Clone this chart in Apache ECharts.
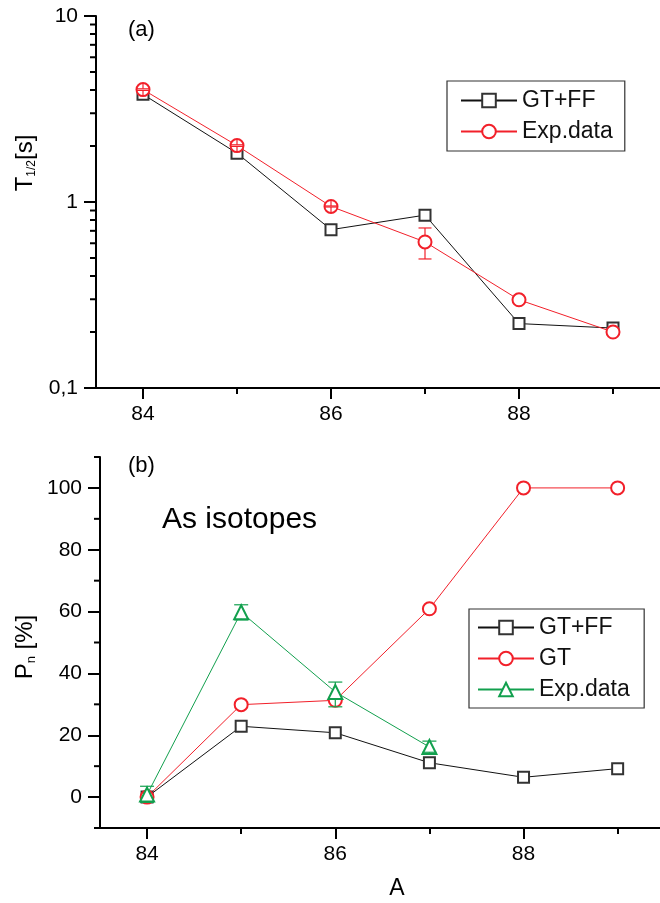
<!DOCTYPE html>
<html>
<head>
<meta charset="utf-8">
<script src="https://cdn.jsdelivr.net/npm/echarts@6/dist/echarts.min.js"></script>
<style>
  html, body { margin: 0; padding: 0; background: #fff; }
  #chart { width: 660px; height: 903px; }
</style>
</head>
<body>
<div id="chart"></div>
<script>
// ---------- data ----------
const massNumbers = [84, 85, 86, 87, 88, 89];

// panel (a): half-lives [s]
const halfLifeCalc = [3.79, 1.83, 0.71, 0.85, 0.222, 0.21];      // GT+FF
const halfLifeExp = [4.02, 2.01, 0.946, 0.61, 0.298, 0.20];       // Exp.data
const halfLifeExpLow = [3.98, 1.99, 0.94, 0.494, null, null];
const halfLifeExpHigh = [4.06, 2.03, 0.952, 0.725, null, null];

// panel (b): Pn [%]
const pnCalc = [0, 22.9, 20.8, 11.1, 6.4, 9.2];                   // GT+FF
const pnGT = [0, 29.9, 31.3, 60.9, 100, 100];                     // GT
const expMassNumbers = [84, 85, 86, 87];
const pnExp = [0.8, 59.8, 34.0, 16.2];                            // Exp.data
const pnExpLow = [-1.7, 57.3, 29.2, 14.5];
const pnExpHigh = [3.5, 62.2, 37.2, 18.1];

// axes / ticks
const xMin = 83.5, xMaxTop = 89.5, xMaxBottom = 89.45;
const xMajorTicks = [84, 86, 88];
const xMinorTicks = [85, 87, 89];
const logMin = 0.1, logMax = 10;
const logMajorTicks = [0.1, 1, 10];
const logTickLabels = ['0,1', '1', '10'];
const logMinorTicks = [0.2, 0.3, 0.4, 0.5, 0.6, 0.7, 0.8, 0.9, 2, 3, 4, 5, 6, 7, 8, 9];
const pnMin = -10, pnMax = 110;
const pnMajorTicks = [0, 20, 40, 60, 80, 100];
const pnMinorTicks = [-10, 10, 30, 50, 70, 90, 110];

// ---------- helpers ----------
const FONT = '"Liberation Sans", Arial, Helvetica, sans-serif';
const RED = '#f2202a';
const GREEN = '#12a04e';
const BLACK = '#111';

function pairs(xs, ys) { return xs.map((x, i) => [x, ys[i]]); }
function errRows(xs, ys, lo, hi) {
  const out = [];
  xs.forEach((x, i) => { if (lo[i] != null && hi[i] != null) out.push([x, ys[i], lo[i], hi[i]]); });
  return out;
}
function errorBarRenderer(color, radius, capHalf) {
  return function (params, api) {
    const x = api.value(0);
    const c = api.coord([x, api.value(1)]);
    const lo = api.coord([x, api.value(2)]);
    const hi = api.coord([x, api.value(3)]);
    const st = { stroke: color, lineWidth: 1.2 };
    return {
      type: 'group',
      children: [
        { type: 'line', shape: { x1: c[0], y1: c[1] - radius, x2: c[0], y2: hi[1] }, style: st },
        { type: 'line', shape: { x1: c[0], y1: c[1] + radius, x2: c[0], y2: lo[1] }, style: st },
        { type: 'line', shape: { x1: c[0] - capHalf, y1: hi[1], x2: c[0] + capHalf, y2: hi[1] }, style: st },
        { type: 'line', shape: { x1: c[0] - capHalf, y1: lo[1], x2: c[0] + capHalf, y2: lo[1] }, style: st }
      ]
    };
  };
}
// minor tick drawn across the full width of a narrow strip grid placed just left of the main axis
function stripTickRenderer(params, api) {
  const p = api.coord([api.value(0), api.value(1)]);
  const cs = params.coordSys;
  return {
    type: 'line',
    shape: { x1: cs.x, y1: p[1], x2: cs.x + cs.width, y2: p[1] },
    style: { stroke: '#000', lineWidth: 2 }
  };
}

const axisLineStyle = { color: '#000', width: 2 };
const labelStyle = { color: '#000', fontFamily: FONT, fontSize: 21 };

function xAxisMain(gridIndex, max) {
  return {
    type: 'value', gridIndex, position: 'bottom', min: xMin, max,
    axisLine: { show: true, onZero: false, lineStyle: axisLineStyle },
    axisTick: { show: true, length: 11, lineStyle: { width: 2, color: '#000' }, customValues: xMajorTicks },
    axisLabel: Object.assign({ margin: 16, customValues: xMajorTicks, formatter: v => String(v) }, labelStyle),
    splitLine: { show: false }
  };
}
function xAxisMinor(gridIndex, max) {
  return {
    type: 'value', gridIndex, position: 'bottom', min: xMin, max,
    axisLine: { show: false, onZero: false },
    axisTick: { show: true, length: 6, lineStyle: { width: 2, color: '#000' }, customValues: xMinorTicks },
    axisLabel: { show: false },
    splitLine: { show: false }
  };
}
function hiddenAxis(gridIndex, type, min, max) {
  return { type, gridIndex, min, max, show: false, axisLine: { show: false, onZero: false }, splitLine: { show: false } };
}

const option = {
  animation: false,
  backgroundColor: '#fff',
  textStyle: { fontFamily: FONT },
  grid: [
    { left: 96, top: 16, width: 564, height: 372, containLabel: false, outerBoundsMode: 'none' },
    { left: 100, top: 457, width: 560, height: 371, containLabel: false, outerBoundsMode: 'none' },
    // narrow strips left of each y axis, same vertical extent, carrying the minor y ticks
    { left: 90, top: 16, width: 6, height: 372, containLabel: false, outerBoundsMode: 'none' },
    { left: 94, top: 457, width: 6, height: 371, containLabel: false, outerBoundsMode: 'none' }
  ],
  xAxis: [
    xAxisMain(0, xMaxTop),
    xAxisMinor(0, xMaxTop),
    xAxisMain(1, xMaxBottom),
    xAxisMinor(1, xMaxBottom),
    hiddenAxis(2, 'value', 0, 1),
    hiddenAxis(3, 'value', 0, 1)
  ],
  yAxis: [
    {
      type: 'log', logBase: 10, gridIndex: 0, min: logMin, max: logMax, position: 'left',
      axisLine: { show: true, onZero: false, lineStyle: axisLineStyle },
      axisTick: { show: true, length: 12, lineStyle: { width: 2, color: '#000' } },
      axisLabel: Object.assign({
        margin: 18, showMinLabel: true, showMaxLabel: true,
        formatter: function (v) {
          const i = logMajorTicks.findIndex(t => Math.abs(Math.log10(t) - Math.log10(v)) < 0.01);
          return i >= 0 ? logTickLabels[i] : '';
        }
      }, labelStyle),
      splitLine: { show: false }
    },
    {
      type: 'value', gridIndex: 1, min: pnMin, max: pnMax, position: 'left',
      axisLine: { show: true, onZero: false, lineStyle: axisLineStyle },
      axisTick: { show: true, length: 12, lineStyle: { width: 2, color: '#000' }, customValues: pnMajorTicks },
      axisLabel: Object.assign({ margin: 18, customValues: pnMajorTicks, formatter: v => String(v) }, labelStyle),
      splitLine: { show: false }
    },
    hiddenAxis(2, 'log', logMin, logMax),
    hiddenAxis(3, 'value', pnMin, pnMax)
  ],
  legend: [
    {
      orient: 'vertical', left: 447, top: 81,
      padding: [8, 12, 8, 13], itemGap: 8, itemWidth: 56, itemHeight: 17,
      borderColor: '#333', borderWidth: 1.2, backgroundColor: '#fff',
      textStyle: { fontFamily: FONT, fontSize: 23, color: '#111', lineHeight: 22 },
      data: ['GT+FF', 'Exp.data'],
      selectedMode: false
    },
    {
      orient: 'vertical', left: 469, top: 609,
      padding: [7, 8, 7, 8], itemGap: 8, itemWidth: 56, itemHeight: 17,
      borderColor: '#333', borderWidth: 1.2, backgroundColor: '#fff',
      textStyle: { fontFamily: FONT, fontSize: 23, color: '#111', lineHeight: 22 },
      data: ['GT+FF ', 'GT', 'Exp.data '],
      selectedMode: false
    }
  ],
  graphic: [
    { type: 'text', left: 128, top: 19, style: { text: '(a)', fontFamily: FONT, fontSize: 22, fill: '#000' } },
    { type: 'text', left: 128, top: 455, style: { text: '(b)', fontFamily: FONT, fontSize: 22, fill: '#000' } },
    { type: 'text', left: 162, top: 505, style: { text: 'As isotopes', fontFamily: FONT, fontSize: 30, fill: '#000' } },
    { type: 'text', x: 397, y: 889, style: { text: 'A', fontFamily: FONT, fontSize: 23, fill: '#000', align: 'center', verticalAlign: 'middle' } },
    {
      type: 'text', x: 25, y: 163, rotation: Math.PI / 2,
      style: {
        text: '{a|T}{b|1/2}{a|[s]}', align: 'center', verticalAlign: 'middle',
        rich: {
          a: { fontFamily: FONT, fontSize: 24, fill: '#000', lineHeight: 26, verticalAlign: 'middle' },
          b: { fontFamily: FONT, fontSize: 12, fill: '#000', lineHeight: 12, verticalAlign: 'bottom' }
        }
      }
    },
    {
      type: 'text', x: 25, y: 647, rotation: Math.PI / 2,
      style: {
        text: '{a|P}{b|n}{a| [%]}', align: 'center', verticalAlign: 'middle',
        rich: {
          a: { fontFamily: FONT, fontSize: 24, fill: '#000', lineHeight: 26, verticalAlign: 'middle' },
          b: { fontFamily: FONT, fontSize: 13, fill: '#000', lineHeight: 12, verticalAlign: 'bottom' }
        }
      }
    }
  ],
  series: [
    // ----- panel (a) -----
    {
      name: 'GT+FF', type: 'line', xAxisIndex: 0, yAxisIndex: 0,
      data: pairs(massNumbers, halfLifeCalc),
      symbol: 'emptyRect', symbolSize: 11, z: 3,
      lineStyle: { color: BLACK, width: 1 },
      itemStyle: { color: '#333', borderWidth: 1.3 }
    },
    {
      name: 'Exp.data', type: 'line', xAxisIndex: 0, yAxisIndex: 0,
      data: pairs(massNumbers, halfLifeExp),
      symbol: 'emptyCircle', symbolSize: 13, z: 4,
      lineStyle: { color: RED, width: 1 },
      itemStyle: { color: RED, borderWidth: 1.3 }
    },
    {
      name: 'errA', type: 'custom', xAxisIndex: 0, yAxisIndex: 0, z: 5, silent: true, clip: false,
      data: errRows(massNumbers, halfLifeExp, halfLifeExpLow, halfLifeExpHigh),
      renderItem: errorBarRenderer(RED, 6.5, 6.5)
    },
    {
      name: 'logMinorTicks', type: 'custom', xAxisIndex: 4, yAxisIndex: 2, z: 5, silent: true, clip: false,
      data: logMinorTicks.map(v => [0, v]),
      renderItem: stripTickRenderer
    },
    // ----- panel (b) -----
    {
      name: 'GT+FF ', type: 'line', xAxisIndex: 2, yAxisIndex: 1,
      data: pairs(massNumbers, pnCalc),
      symbol: 'emptyRect', symbolSize: 11, z: 3,
      lineStyle: { color: BLACK, width: 1 },
      itemStyle: { color: '#333', borderWidth: 1.3 }
    },
    {
      name: 'GT', type: 'line', xAxisIndex: 2, yAxisIndex: 1,
      data: pairs(massNumbers, pnGT),
      symbol: 'emptyCircle', symbolSize: 13, z: 3,
      lineStyle: { color: RED, width: 1 },
      itemStyle: { color: RED, borderWidth: 1.3 }
    },
    {
      name: 'Exp.data ', type: 'line', xAxisIndex: 2, yAxisIndex: 1,
      data: pairs(expMassNumbers, pnExp),
      symbol: 'emptyTriangle', symbolSize: 14, z: 4,
      lineStyle: { color: GREEN, width: 1 },
      itemStyle: { color: GREEN, borderWidth: 1.3 }
    },
    {
      name: 'errB', type: 'custom', xAxisIndex: 2, yAxisIndex: 1, z: 5, silent: true, clip: false,
      data: errRows(expMassNumbers, pnExp, pnExpLow, pnExpHigh),
      renderItem: errorBarRenderer(GREEN, 6.5, 7)
    },
    {
      name: 'pnMinorTicks', type: 'custom', xAxisIndex: 5, yAxisIndex: 3, z: 5, silent: true, clip: false,
      data: pnMinorTicks.map(v => [0, v]),
      renderItem: stripTickRenderer
    }
  ]
};

const chart = echarts.init(document.getElementById('chart'), null, { renderer: 'canvas', width: 660, height: 903 });
chart.setOption(option);
</script>
</body>
</html>
